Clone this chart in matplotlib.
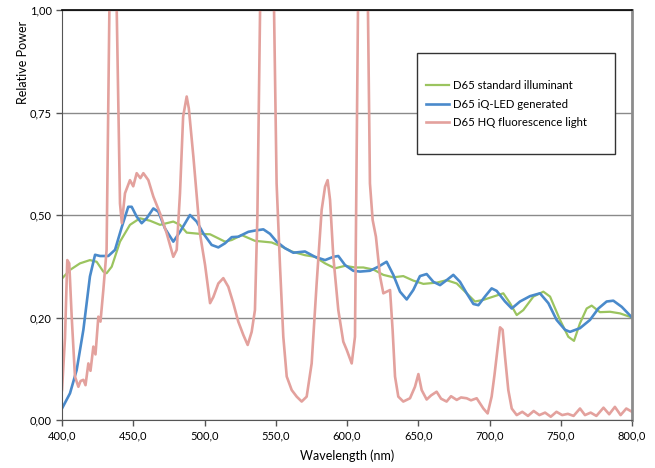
import matplotlib
matplotlib.use("Agg")
import matplotlib.pyplot as plt
from matplotlib.patches import Rectangle

plt.rcParams['font.family'] = ['Lato', 'DejaVu Sans']

# D65 standard illuminant
std_nm = [400, 405.6, 412.6, 419.6, 424.3, 429, 431.3, 434.9, 440.7, 447.7, 454.7, 461.8,
          468.8, 478.1, 482.8, 487.5, 496.8, 503.9, 507.4, 514.4, 519.1, 526.1, 535.4,
          547.1, 554.2, 561.2, 570.5, 577.5, 584.6, 591.6, 598.6, 605.6, 611.5, 618.5,
          625.5, 632.5, 639.5, 646.5, 653.6, 662.9, 669.9, 677, 684, 689.8, 695.7, 702.7,
          709.7, 714.4, 719.1, 723.7, 730.8, 737.8, 742.5, 749.5, 755.3, 759.3, 763.5,
          768.2, 771.7, 777.5, 784.6, 791.6, 800]
std_val = [0.345, 0.366, 0.382, 0.390, 0.386, 0.362, 0.358, 0.374, 0.435, 0.476, 0.492, 0.486,
           0.476, 0.484, 0.476, 0.457, 0.454, 0.453, 0.447, 0.435, 0.439, 0.451, 0.437,
           0.433, 0.423, 0.411, 0.402, 0.398, 0.382, 0.370, 0.376, 0.372, 0.372, 0.367,
           0.354, 0.348, 0.351, 0.340, 0.332, 0.335, 0.341, 0.333, 0.309, 0.289, 0.293, 0.301,
           0.309, 0.285, 0.256, 0.268, 0.301, 0.313, 0.301, 0.244, 0.203, 0.193, 0.236,
           0.272, 0.279, 0.263, 0.264, 0.260, 0.250]

# D65 generated by iQ-LED
led_nm = [400, 405.6, 410.3, 415, 419.6, 423.2, 426.7, 432.5, 437.2, 441.9, 446.5, 448.9,
          452.4, 455.9, 459.4, 464.1, 467.6, 472.3, 478.1, 482.8, 489.8, 494.5, 499.2,
          505, 509.7, 514.4, 519.1, 523.7, 530.8, 535.4, 541.3, 546, 550.6, 556.5, 562.3,
          570.5, 577.5, 584.6, 590.4, 593.9, 598.6, 604.4, 609.1, 616.1, 622, 627.8,
          632.5, 637.2, 641.9, 646.5, 651.2, 655.9, 660.6, 665.3, 669.9, 674.6, 679.3,
          684, 688.7, 692.2, 696.8, 701.5, 705, 710.9, 715.6, 721.4, 728.4, 735.4, 741.3,
          747.1, 753, 756.5, 763.5, 770.5, 776.4, 782.2, 786.9, 792.8, 800]
led_val = [0.028, 0.065, 0.122, 0.220, 0.350, 0.403, 0.400, 0.400, 0.415, 0.470, 0.520, 0.520,
           0.496, 0.480, 0.492, 0.516, 0.508, 0.467, 0.435, 0.459, 0.500, 0.484, 0.455,
           0.427, 0.421, 0.431, 0.446, 0.447, 0.459, 0.462, 0.465, 0.454, 0.435, 0.419, 0.408,
           0.411, 0.398, 0.390, 0.398, 0.400, 0.378, 0.364, 0.362, 0.364, 0.374, 0.386,
           0.354, 0.313, 0.294, 0.317, 0.351, 0.356, 0.337, 0.329, 0.341, 0.354, 0.337,
           0.309, 0.283, 0.280, 0.301, 0.321, 0.315, 0.289, 0.272, 0.289, 0.302, 0.309, 0.285,
           0.244, 0.220, 0.215, 0.224, 0.244, 0.272, 0.289, 0.291, 0.276, 0.250]

# D65 HQ fluorescence light
hq_nm = [400, 402.1, 403.7, 405.1, 406.8, 409.1, 411.5, 413, 415, 416.5, 418.5, 420, 422,
         423.5, 425.5, 427, 429, 431.3, 433.2, 435.8, 438.4, 440.7, 442, 444.2, 447.7,
         450, 452.4, 455, 457.1, 460.6, 464.1, 468.8, 473.5, 478.1, 480.5, 482.8, 485,
         487.5, 489, 492.2, 496.8, 500.4, 503.9, 506.2, 509.7, 513.2, 516.7, 520.2,
         523.7, 527.3, 530.3, 533.1, 535.4, 537.1, 539, 544, 548.8, 550.6, 553, 555.3,
         557.7, 561.2, 564.7, 568.2, 571.7, 575.2, 578.7, 582.2, 584.6, 586.4, 588.1,
         590.4, 593.9, 597.4, 599.8, 603.3, 605.6, 607.7, 611, 614.7, 616.1, 618, 620.3,
         623.2, 625.5, 627.8, 630.2, 632, 633.7, 636, 639.5, 644.2, 647.7, 650.1, 652.4,
         655.9, 659, 662.9, 666, 669.9, 673, 677, 680, 684, 687, 691, 695.7, 698.7,
         701.5, 703.5, 705, 707.4, 709.2, 710.9, 713.2, 715.6, 719.1, 723, 727, 731,
         735, 739, 743, 747, 751, 755, 759, 763.5, 767, 771, 775, 780, 784, 788, 792,
         796, 800]
hq_val = [0.073, 0.200, 0.390, 0.382, 0.252, 0.106, 0.081, 0.095, 0.098, 0.085, 0.138, 0.120,
          0.179, 0.160, 0.252, 0.240, 0.317, 0.415, 1.0, 1.5, 1.0, 0.528, 0.480, 0.553,
          0.585, 0.570, 0.602, 0.590, 0.602, 0.585, 0.545, 0.504, 0.455, 0.398, 0.415,
          0.553, 0.740, 0.789, 0.760, 0.642, 0.455, 0.378, 0.285, 0.300, 0.333, 0.346,
          0.325, 0.285, 0.240, 0.207, 0.183, 0.215, 0.268, 0.496, 1.0, 1.5, 1.0, 0.577,
          0.374, 0.203, 0.106, 0.073, 0.057, 0.045, 0.057, 0.138, 0.333, 0.512, 0.569,
          0.585, 0.537, 0.398, 0.268, 0.191, 0.171, 0.138, 0.203, 1.0, 1.5, 1.0, 0.577,
          0.488, 0.447, 0.350, 0.309, 0.313, 0.317, 0.220, 0.106, 0.057, 0.045, 0.053,
          0.081, 0.112, 0.073, 0.050, 0.060, 0.069, 0.052, 0.045, 0.058, 0.049, 0.055,
          0.053, 0.048, 0.053, 0.028, 0.016, 0.057, 0.110, 0.154, 0.226, 0.220, 0.154,
          0.073, 0.028, 0.012, 0.020, 0.010, 0.022, 0.012, 0.018, 0.008, 0.020, 0.012,
          0.015, 0.010, 0.028, 0.012, 0.018, 0.010, 0.030, 0.014, 0.032, 0.012, 0.028,
          0.020]

x_ticks = [400, 450, 500, 550, 600, 650, 700, 750, 800]
x_tick_labels = ['400,0', '450,0', '500,0', '550,0', '600,0', '650,0', '700,0', '750,0', '800,0']
y_ticks = [0, 0.25, 0.5, 0.75, 1.0]
y_tick_labels = ['0,00', '0,20', '0,50', '0,75', '1,00']

fig = plt.figure(figsize=(6.55, 4.68), dpi=100)
ax = fig.add_axes([62 / 655, 48 / 468, 570 / 655, 410 / 468])

ax.plot(std_nm, std_val, color='#9BC45F', lw=1.6, label='D65 standard illuminant')
ax.plot(led_nm, led_val, color='#4A8ACB', lw=1.9, label='D65 iQ-LED generated')
ax.plot(hq_nm, hq_val, color='#E3A19D', lw=1.9, label='D65 HQ fluorescence light')

ax.set_xlim(400, 800)
ax.set_ylim(0, 1.0)
ax.set_xticks(x_ticks)
ax.set_xticklabels(x_tick_labels)
ax.set_yticks(y_ticks)
ax.set_yticklabels(y_tick_labels)
ax.yaxis.grid(True, color='#8a8a8a', lw=1.0)
ax.set_axisbelow(True)

ax.tick_params(axis='both', labelsize=8, length=4, width=1, color='#555555', direction='out')
ax.spines['top'].set_color('black')
ax.spines['top'].set_linewidth(1.2)
ax.spines['left'].set_color('#555555')
ax.spines['bottom'].set_color('#555555')
ax.spines['right'].set_color('#8c8c8c')
ax.spines['right'].set_linewidth(2.0)

ax.set_xlabel('Wavelength (nm)', fontsize=9, labelpad=6)
ax.set_ylabel('Relative Power', fontsize=9, loc='top')
ax.yaxis.set_label_coords(-0.058, 0.975)

ax.add_patch(Rectangle((0.623, 0.649), 0.347, 0.246, transform=ax.transAxes,
                       fill=True, facecolor='white', edgecolor='#333333', lw=1.0, zorder=4))
ax.legend(loc='center left', bbox_to_anchor=(0.6386, 0.7707), frameon=False, fontsize=8.2,
          borderpad=0, borderaxespad=0, handlelength=2.0, handletextpad=0.4,
          labelspacing=0.7).set_zorder(5)

fig.savefig('out.png', dpi=100)
